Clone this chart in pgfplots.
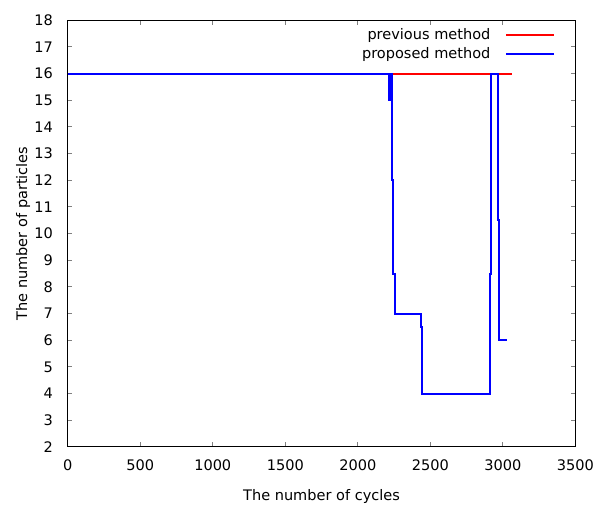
\documentclass[border=0pt]{standalone}
\usepackage{fontspec}
\setmainfont{DejaVu Sans}
\usepackage{pgfplots}
\pgfplotsset{compat=1.18}
\begin{document}
\fontsize{10.9pt}{13pt}\selectfont
\begin{tikzpicture}
\begin{axis}[
  scale only axis,
  width=380.7pt, height=320pt,
  xmin=0, xmax=3500, ymin=2, ymax=18,
  xtick={0,500,...,3500},
  ytick={2,3,...,18},
  tick align=inside,
  major tick length=3.5pt,
  axis line style={line width=0.75pt},
  tick style={line width=0.75pt},
  /pgf/number format/assume math mode=true,
  /pgf/number format/1000 sep={},
  xticklabel style={inner sep=0pt, anchor=north, yshift=-9.5pt},
  yticklabel style={inner sep=0pt, anchor=east, xshift=-11pt},
  xlabel={The number of cycles},
  ylabel={The number of particles},
  xlabel style={at={(axis description cs:0.5,-0.1)}, anchor=north, inner sep=0pt},
  ylabel style={at={(axis description cs:-0.0735,0.5)}, anchor=south, inner sep=0pt},
  legend cell align=right,
  legend plot pos=right,
  legend style={draw=none, fill=none, inner sep=0pt, outer sep=0pt,
    at={(rel axis cs:1,1)}, anchor=north east, xshift=-15.2pt, yshift=-6pt,
    row sep=4.6pt, column sep=0pt,
    nodes={inner sep=0pt}},
  legend image code/.code={\path (0pt,0pt); \draw[#1] (11pt,0pt) -- (47pt,0pt);},
]
\addplot[draw=red, line width=1.5pt] table {
x y
0 16
3060 16
};
\addlegendentry{previous method}
\addplot[draw=blue, line width=1.5pt] table {
x y
0 16
2218 16
2218 15
2220 15
2220 16
2222 16
2222 15
2224 15
2224 16
2226 16
2226 15
2228 15
2228 16
2230 16
2230 15
2232 15
2232 16
2234 16
2234 15
2237 15
2237 12
2246 12
2246 8.5
2259 8.5
2259 7
2438 7
2438 6.5
2446 6.5
2446 4
2909 4
2909 8.5
2921 8.5
2921 16
2965 16
2965 10.5
2974 10.5
2974 6
3027 6
};
\addlegendentry{proposed method}
\end{axis}
\path (current axis.south west) ++(-50.8pt,-44.25pt) coordinate (bbA);
\path (current axis.north east) ++(15.5pt,15.2pt) coordinate (bbB);
\pgfresetboundingbox
\path[use as bounding box] (bbA) rectangle (bbB);
\end{tikzpicture}
\end{document}
